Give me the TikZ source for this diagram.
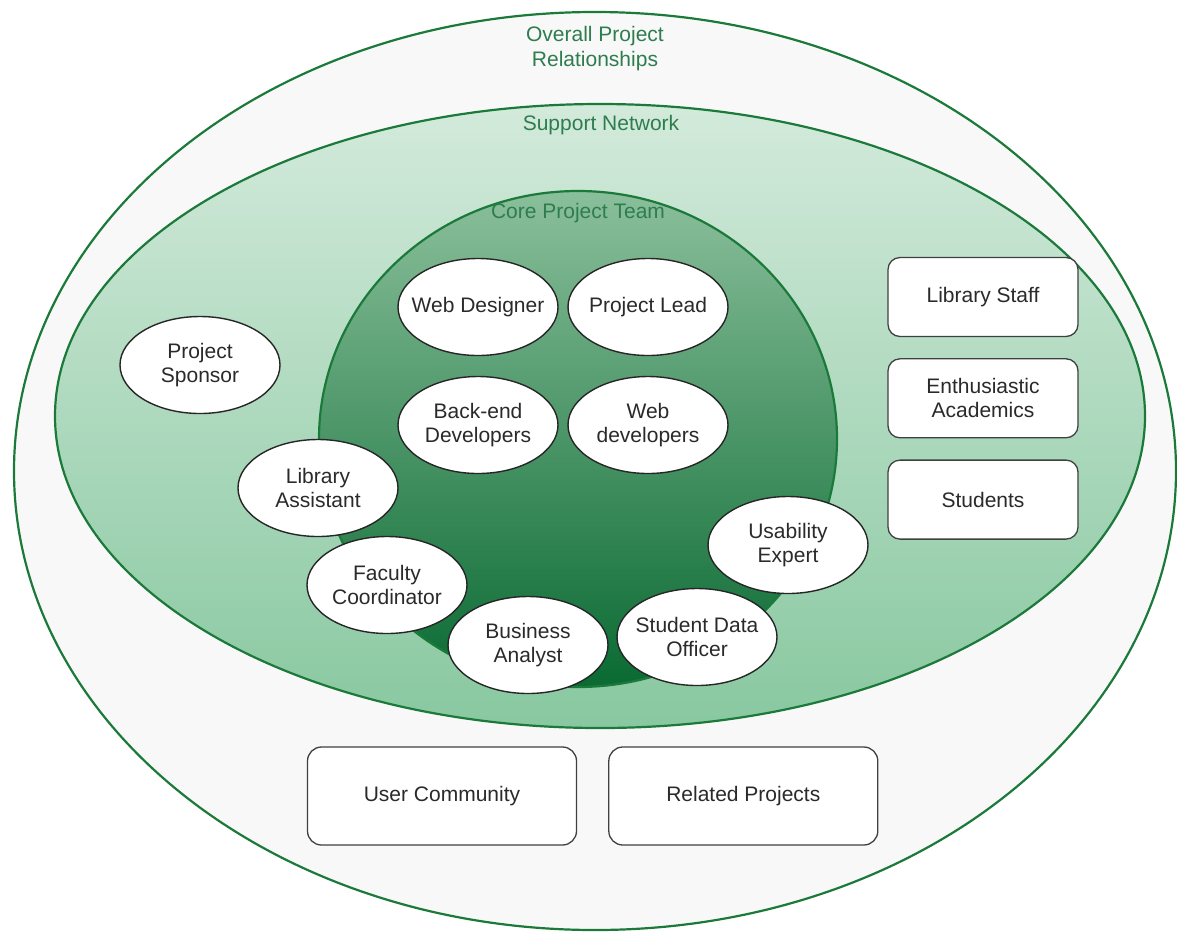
\documentclass[tikz,border=0pt]{standalone}
\usepackage{fontspec}
\setmainfont{Liberation Sans}
\usepackage{tikz}
\usetikzlibrary{shapes.geometric}
\usetikzlibrary{positioning}

\definecolor{ringline}{HTML}{1B7A3A}
\definecolor{ringtext}{HTML}{2E7D4F}
\definecolor{outerfill}{HTML}{F8F8F8}
\definecolor{supporttop}{HTML}{D3EADB}
\definecolor{supportbot}{HTML}{88C8A0}
\definecolor{coretop}{HTML}{8ABF9B}
\definecolor{corebot}{HTML}{0A6A32}
\definecolor{labeltext}{HTML}{2A2A2A}

\begin{document}
\begin{tikzpicture}[
		x=1pt,y=-1pt,
		ring/.style={draw=ringline,line width=2.2pt,ellipse,inner sep=0pt},
		title/.style={text=ringtext,font=\fontsize{21}{25}\selectfont,align=center},
		member/.style={draw=black!85,fill=white,line width=1.4pt,ellipse,inner ysep=0pt,inner xsep=-10pt,
			minimum width=160pt,minimum height=97pt,text=labeltext,
			font=\fontsize{21}{24}\selectfont,align=center},
		group/.style={draw=black!75,fill=white,line width=1.3pt,rectangle,rounded corners=12pt,
			minimum width=190pt,minimum height=79pt,text=labeltext,
			font=\fontsize{21}{24}\selectfont,align=center},
		outer/.style={draw=black!75,fill=white,line width=1.3pt,rectangle,rounded corners=14pt,
			minimum width=269pt,minimum height=98pt,text=labeltext,
			font=\fontsize{21}{24}\selectfont,align=center}
	]
		\useasboundingbox (0,0) rectangle (1177,935);
		\fill[white] (0,0) rectangle (1177,935);

		% rings
		\node [ring,fill=outerfill,minimum width=1162pt,minimum height=918pt] (overall) at (595,471) {};
		\node [ring,top color=supporttop,bottom color=supportbot,minimum width=1090pt,minimum height=624pt] (support) at (600,416) {};
		\node [ring,top color=coretop,bottom color=corebot,minimum width=518pt,minimum height=496pt] (core) at (578,439) {};

		\node [title] (overall_title) at (595,49) {Overall Project\\Relationships};
		\node [title] (support_title) at (601,125) {Support Network};
		\node [title] (core_title) at (578,213) {Core Project Team};

		% core team
		\node [member] (web_designer) at (478,307) {Web Designer};
		\node [member] (project_lead) at (648,307) {Project Lead};
		\node [member] (backend_dev) at (478,425) {Back-end\\Developers};
		\node [member] (web_dev) at (648,425) {Web\\developers};

		% support network
		\node [member] (sponsor) at (200,365) {Project\\Sponsor};
		\node [member] (lib_assistant) at (318,488) {Library\\Assistant};
		\node [member] (faculty) at (387,585) {Faculty\\Coordinator};
		\node [member] (analyst) at (528,645) {Business\\Analyst};
		\node [member] (data_officer) at (697,637) {Student Data\\Officer};
		\node [member] (usability) at (788,545) {Usability\\Expert};

		\node [group] (lib_staff) at (983,297) {Library Staff};
		\node [group,below=21pt of lib_staff] (academics) {Enthusiastic\\Academics};
		\node [group,below=21pt of academics] (students) {Students};

		% overall relationships
		\node [outer] (user_comm) at (442,796) {User Community};
		\node [outer,right=31pt of user_comm] (related) {Related Projects};
	\end{tikzpicture}
\end{document}
